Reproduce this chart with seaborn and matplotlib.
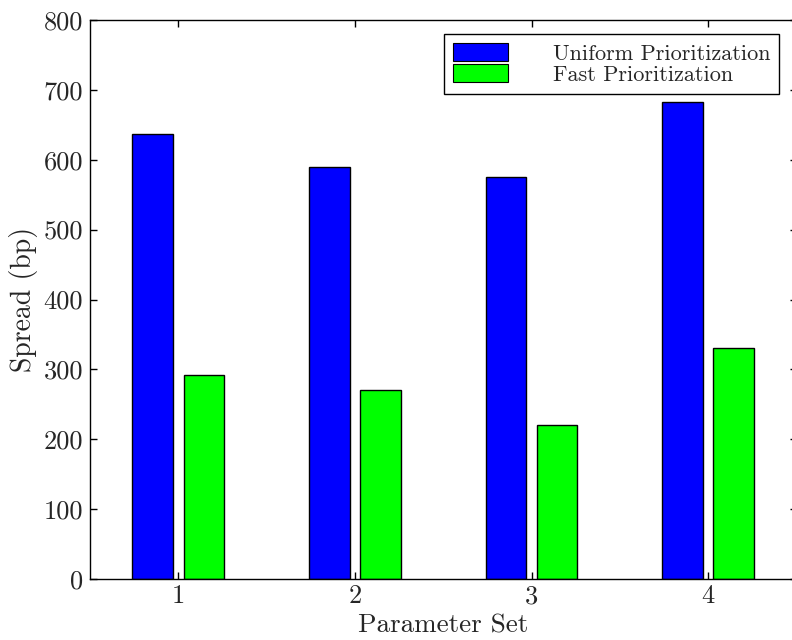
import numpy as np
import pandas as pd
import seaborn as sns
import matplotlib.pyplot as plt
from matplotlib.patches import Patch

# values
param_sets = [1, 2, 3, 4]
uniform_spread = [637, 590, 575, 682]
fast_spread = [292, 270, 221, 330]
methods = ['Uniform Prioritization', 'Fast Prioritization']
colors = ['#0000ff', '#00ff00']
y_ticks = [0, 100, 200, 300, 400, 500, 600, 700, 800]

df = pd.DataFrame({
    'Parameter Set': param_sets * 2,
    'Spread': uniform_spread + fast_spread,
    'Method': [methods[0]] * 4 + [methods[1]] * 4,
})

sns.set_style('ticks')
plt.rcParams['font.family'] = ['cmr10', 'DejaVu Serif']
plt.rcParams['axes.unicode_minus'] = False

fig = plt.figure(figsize=(7.92, 6.4), dpi=100)
# axes runs a little past the right edge, like the cropped original
ax = fig.add_axes([90 / 792, 61 / 640, 706.5 / 792, 559 / 640])

sns.barplot(data=df, x='Parameter Set', y='Spread', hue='Method',
            native_scale=True, width=0.58, gap=0.207, saturation=1,
            palette=colors, edgecolor='black', linewidth=1,
            legend=False, errorbar=None, ax=ax)

ax.set_xlim(0.5, 4.5)
ax.set_ylim(0, 800)
ax.set_xticks(param_sets, [str(p) for p in param_sets])
ax.set_yticks(y_ticks, [str(t) for t in y_ticks])

ax.set_xlabel('Parameter Set', fontsize=19.5, labelpad=4)
ax.set_ylabel('Spread (bp)', fontsize=20, labelpad=4)

ax.tick_params(direction='in', length=5, width=1, color='black',
               top=True, right=True, labelsize=19)
ax.tick_params(axis='x', pad=4)
ax.tick_params(axis='y', pad=5)
for sp in ax.spines.values():
    sp.set_visible(True)
    sp.set_color('black')
    sp.set_linewidth(1)

handles = [Patch(facecolor=c, edgecolor='black', linewidth=0.8) for c in colors]
leg = ax.legend(handles, methods, loc='upper right', fontsize=16,
                frameon=True, fancybox=False, shadow=False, framealpha=1,
                edgecolor='black', labelspacing=0, handlelength=2.5,
                handleheight=0.9, handletextpad=2.0, borderpad=0.4,
                bbox_to_anchor=(779 / 792, 1 - 34 / 640),
                bbox_transform=fig.transFigure, borderaxespad=0)
leg.get_frame().set_linewidth(1)

fig.savefig('out.png', dpi=100)
